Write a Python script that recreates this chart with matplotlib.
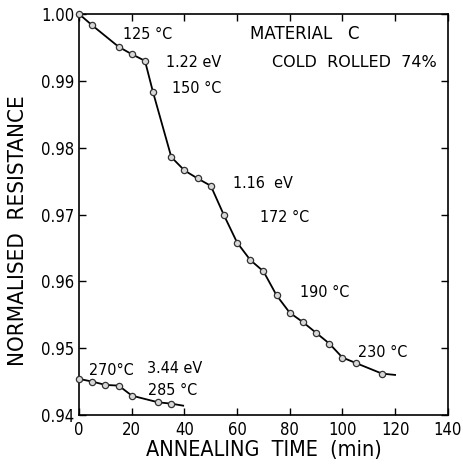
import matplotlib
matplotlib.use("Agg")
import matplotlib.pyplot as plt

plt.rcParams['font.family'] = ['DejaVu Sans']
plt.rcParams['font.stretch'] = 'condensed'

# annealing series (min, normalised resistance)
time_main = [0, 5, 15, 20, 25, 28, 35, 40, 45, 50, 55, 60, 65, 70, 75, 80,
             85, 90, 95, 100, 105, 115]
res_main = [1.0000, 0.9983, 0.9951, 0.9940, 0.9930, 0.9884, 0.9786, 0.9766,
            0.9754, 0.9743, 0.9699, 0.9658, 0.9632, 0.9615, 0.9579, 0.9553,
            0.9539, 0.9523, 0.9507, 0.9486, 0.9478, 0.9462]
main_tail = (120, 0.9460)

time_high = [0, 5, 10, 15, 20, 30, 35]
res_high = [0.9454, 0.9450, 0.9445, 0.9444, 0.9429, 0.9419, 0.9417]
high_tail = (39.5, 0.9414)

# (x, y, text, size, stretch)
notes = [
    (16.7, 0.9969, "125 °C", 11.5, 'condensed'),
    (33.0, 0.9927, "1.22 eV", 11.5, 'condensed'),
    (35.3, 0.9889, "150 °C", 11.5, 'condensed'),
    (64.9, 0.9970, "MATERIAL   C", 12, 'normal'),
    (73.3, 0.9927, "COLD  ROLLED  74%", 11.5, 'normal'),
    (58.5, 0.9747, "1.16  eV", 11.5, 'condensed'),
    (68.7, 0.9696, "172 °C", 11.5, 'condensed'),
    (84.0, 0.9584, "190 °C", 11.5, 'condensed'),
    (106.0, 0.9493, "230 °C", 11.5, 'condensed'),
    (3.8, 0.9467, "270°C", 11.5, 'condensed'),
    (25.8, 0.9470, "3.44 eV", 11.5, 'condensed'),
    (26.3, 0.9436, "285 °C", 11.5, 'condensed'),
]

fig = plt.figure(figsize=(4.63, 4.70), dpi=100)
ax = fig.add_axes([0.171, 0.117, 0.796, 0.853])

for t, r, tail in [(time_main, res_main, main_tail), (time_high, res_high, high_tail)]:
    ax.plot(list(t) + [tail[0]], list(r) + [tail[1]], color='black', lw=1.3,
            zorder=2, clip_on=False)
    ax.plot(t, r, 'o', ms=4.5, mfc='#d8d8d8', mec='#333333', mew=0.9,
            zorder=3, clip_on=False)

for x, y, s, fs, st in notes:
    ax.text(x, y, s, fontsize=fs, fontstretch=st, va='center', ha='left')

ax.set_xlim(0, 140)
ax.set_ylim(0.94, 1.00)
ax.set_xticks(range(0, 141, 20))
ax.set_yticks([0.94, 0.95, 0.96, 0.97, 0.98, 0.99, 1.00])
ax.set_yticklabels(['0.94', '0.95', '0.96', '0.97', '0.98', '0.99', '1.00'])
ax.tick_params(direction='in', top=True, right=True, length=5, width=1,
               labelsize=12)
ax.tick_params(axis='x', pad=4)

ax.set_xlabel("ANNEALING  TIME  (min)", fontsize=15.5, labelpad=1)
ax.set_ylabel("NORMALISED  RESISTANCE", fontsize=16)
ax.yaxis.set_label_coords(-0.138, 0.46)

for sp in ax.spines.values():
    sp.set_linewidth(1.2)

fig.savefig("out.png", dpi=100)
